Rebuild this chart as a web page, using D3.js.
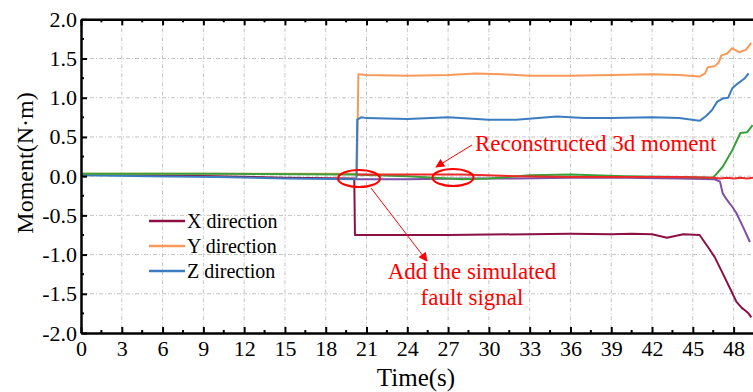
<!DOCTYPE html>
<html>
<head>
<meta charset="utf-8">
<script src="https://cdn.jsdelivr.net/npm/d3@7"></script>
<style>
  html, body { margin: 0; padding: 0; background: #fff; }
  svg { display: block; }
  svg text { font-family: "Liberation Serif", "Times New Roman", serif !important; }
</style>
</head>
<body>
<svg id="chart" width="753" height="392"></svg>
<script>
// -- Data --
const xTicks = [0, 3, 6, 9, 12, 15, 18, 21, 24, 27, 30, 33, 36, 39, 42, 45, 48];
const yTicks = [-2.0, -1.5, -1.0, -0.5, 0.0, 0.5, 1.0, 1.5, 2.0];

const timeX = [0, 5, 10, 15, 20.1, 20.15, 21, 24, 27, 30, 33, 36, 39, 40.5, 42, 43.1, 44.3, 45.5, 46.1, 46.6, 47.2, 47.9, 48.2, 48.6, 48.9, 49.1, 49.3];
const momentX = [0.02, 0.01, 0.0, -0.02, -0.03, -0.75, -0.75, -0.75, -0.75, -0.745, -0.74, -0.735, -0.74, -0.735, -0.74, -0.785, -0.74, -0.75, -0.9, -1.03, -1.24, -1.49, -1.6, -1.68, -1.72, -1.75, -1.8];

const timeY = [0, 10, 20, 20.3, 20.4, 21, 24, 27, 29, 31, 33, 36, 39, 42, 44, 45.5, 45.9, 46.1, 46.6, 46.9, 47.1, 47.5, 47.9, 48.4, 48.9, 49.3];
const momentY = [0.03, 0.03, 0.03, 0.03, 1.3, 1.29, 1.28, 1.29, 1.31, 1.3, 1.28, 1.28, 1.29, 1.3, 1.29, 1.27, 1.31, 1.39, 1.4, 1.45, 1.54, 1.56, 1.63, 1.58, 1.61, 1.7];

const timeZ = [0, 5, 10, 15, 20.25, 20.32, 20.6, 21, 24, 27, 30, 32, 35, 37, 39, 42, 44, 45.5, 46, 46.4, 46.8, 47.2, 47.6, 47.9, 48.3, 48.8, 49.1];
const momentZ = [0.01, 0.0, -0.01, -0.03, -0.04, 0.72, 0.75, 0.74, 0.73, 0.75, 0.72, 0.72, 0.76, 0.74, 0.74, 0.75, 0.74, 0.705, 0.77, 0.84, 0.95, 0.99, 1.0, 1.12, 1.18, 1.245, 1.31];

const timeP = [20.3, 24, 28, 32, 36, 40, 44, 46.6, 47.0, 47.2, 47.5, 47.9, 48.2, 48.7, 49.2];
const momentP = [-0.04, -0.04, -0.03, -0.03, -0.02, -0.02, -0.03, -0.04, -0.07, -0.22, -0.3, -0.39, -0.47, -0.65, -0.84];

const timeG = [0, 10, 20, 24, 26, 28, 30, 33, 36, 40, 44, 46.5, 47.2, 47.9, 48.5, 49.0, 49.4];
const momentG = [0.03, 0.03, 0.02, 0.0, -0.02, -0.04, -0.03, 0.01, 0.02, 0.0, -0.01, -0.02, 0.12, 0.33, 0.55, 0.56, 0.65];

const timeR = [20.3, 24, 28, 32, 36, 40, 44, 46.5, 47, 47.5, 48, 48.5, 49, 49.5];
const momentR = [0.02, 0.02, 0.02, 0.0, -0.01, -0.01, -0.01, -0.02, -0.03, -0.02, -0.03, -0.02, -0.03, -0.02];

const legendNames = ["X direction", "Y direction", "Z direction"];

// -- Layout --
const svg = d3.select("#chart");
const plotLeft = 81, plotRight = 754, plotTop = 19.3, plotBottom = 333;

const x = d3.scaleLinear().domain([0, 49.5]).range([plotLeft, plotRight]);
const y = d3.scaleLinear().domain([-2, 2]).range([plotBottom, plotTop]);

// Clip the curves to the plot
svg.append("clipPath").attr("id", "plot-clip")
  .append("rect").attr("x", plotLeft).attr("y", plotTop)
  .attr("width", plotRight - plotLeft).attr("height", plotBottom - plotTop);

// Grid (dashed, light grey)
const grid = svg.append("g").attr("class", "grid")
  .attr("stroke", "#c4c4c4").attr("stroke-width", 1).attr("stroke-dasharray", "4,2,1,2");
grid.selectAll(".vg").data(xTicks.filter(d => d > 0)).enter().append("line")
  .attr("x1", d => x(d)).attr("x2", d => x(d)).attr("y1", plotTop).attr("y2", plotBottom);
grid.selectAll(".hg").data(yTicks.filter(d => d > -2 && d < 2)).enter().append("line")
  .attr("x1", plotLeft).attr("x2", plotRight).attr("y1", d => y(d)).attr("y2", d => y(d));

// Series
const series = [
  { t: timeX, v: momentX, color: "#8d1044" },
  { t: timeY, v: momentY, color: "#f79a59" },
  { t: timeZ, v: momentZ, color: "#3b7dc0" },
  { t: timeP, v: momentP, color: "#7d4fa8" },
  { t: timeG, v: momentG, color: "#3aa03a" },
  { t: timeR, v: momentR, color: "#ec2a2a" }
];

const line = d3.line().x(d => x(d[0])).y(d => y(d[1]));

svg.append("g").attr("clip-path", "url(#plot-clip)")
  .selectAll("path").data(series).enter().append("path")
  .attr("d", s => line(s.t.map((t, i) => [t, s.v[i]])))
  .attr("fill", "none")
  .attr("stroke", s => s.color)
  .attr("stroke-width", 2)
  .attr("stroke-linejoin", "round");

// Axes
const minorX = d3.range(1.5, 49.5, 3);
const minorY = d3.range(-1.75, 2, 0.5);

const xAxis = svg.append("g").attr("transform", `translate(0,${plotBottom})`)
  .call(d3.axisBottom(x).tickValues(xTicks).tickSize(-6).tickSizeOuter(0).tickPadding(7).tickFormat(d3.format("d")));
const xTop = svg.append("g").attr("transform", `translate(0,${plotTop})`)
  .call(d3.axisTop(x).tickValues(xTicks).tickSize(-6).tickSizeOuter(0).tickFormat(""));
const yAxis = svg.append("g").attr("transform", `translate(${plotLeft},0)`)
  .call(d3.axisLeft(y).tickValues(yTicks).tickSize(-6).tickSizeOuter(0).tickPadding(4).tickFormat(d => d.toFixed(1)));

[xAxis, xTop, yAxis].forEach(g => {
  g.attr("font-family", null).attr("font-size", null);
  g.select(".domain").attr("stroke", "#000").attr("stroke-width", 2.5);
  g.selectAll(".tick line").attr("stroke", "#000").attr("stroke-width", 2);
  g.selectAll("text").attr("fill", "#000").style("font-size", "22px");
});

// Minor ticks
svg.append("g").selectAll("line").data(minorX).enter().append("line")
  .attr("x1", d => x(d)).attr("x2", d => x(d)).attr("y1", plotBottom).attr("y2", plotBottom - 3)
  .attr("stroke", "#000").attr("stroke-width", 2);
svg.append("g").selectAll("line").data(minorX).enter().append("line")
  .attr("x1", d => x(d)).attr("x2", d => x(d)).attr("y1", plotTop).attr("y2", plotTop + 3)
  .attr("stroke", "#000").attr("stroke-width", 2);
svg.append("g").selectAll("line").data(minorY).enter().append("line")
  .attr("x1", plotLeft).attr("x2", plotLeft + 3).attr("y1", d => y(d)).attr("y2", d => y(d))
  .attr("stroke", "#000").attr("stroke-width", 2);

// Axis titles
svg.append("text").attr("x", 416).attr("y", 386)
  .attr("text-anchor", "middle").style("font-size", "25px").text("Time(s)");
svg.append("text").attr("transform", "translate(33,163) rotate(-90)")
  .attr("text-anchor", "middle").style("font-size", "24px").text("Moment(N·m)");

// Legend
const legend = svg.append("g").selectAll("g").data(legendNames).enter().append("g")
  .attr("transform", (d, i) => `translate(149,${221 + i * 25})`);
legend.append("line").attr("x1", 0).attr("x2", 36).attr("y1", 0).attr("y2", 0)
  .attr("stroke", (d, i) => series[i].color).attr("stroke-width", 2.5);
legend.append("text").attr("x", 38).attr("y", 7).style("font-size", "20px").text(d => d);

// Annotations
svg.append("defs").append("marker").attr("id", "arrow")
  .attr("viewBox", "0 0 10 10").attr("refX", 9).attr("refY", 5)
  .attr("markerWidth", 11).attr("markerHeight", 9).attr("markerUnits", "userSpaceOnUse")
  .attr("orient", "auto")
  .append("path").attr("d", "M0,0 L10,5 L0,10 Z").attr("fill", "#f00");

const ann = svg.append("g").attr("fill", "none").attr("stroke", "#f00");
ann.append("ellipse").attr("cx", 359).attr("cy", 178.5).attr("rx", 21).attr("ry", 8.5).attr("stroke-width", 2);
ann.append("ellipse").attr("cx", 453).attr("cy", 177.5).attr("rx", 20.5).attr("ry", 8.5).attr("stroke-width", 2);
ann.append("line").attr("x1", 472).attr("y1", 145).attr("x2", 436).attr("y2", 167)
  .attr("stroke-width", 1).attr("marker-end", "url(#arrow)");
ann.append("line").attr("x1", 371).attr("y1", 188).attr("x2", 427).attr("y2", 261)
  .attr("stroke-width", 1).attr("marker-end", "url(#arrow)");

svg.append("text").attr("x", 475).attr("y", 151).attr("fill", "#f00")
  .style("font-size", "23px").text("Reconstructed 3d moment");
svg.append("text").attr("x", 472).attr("y", 279).attr("fill", "#f00").attr("text-anchor", "middle")
  .style("font-size", "23px").text("Add the simulated");
svg.append("text").attr("x", 472).attr("y", 305).attr("fill", "#f00").attr("text-anchor", "middle")
  .style("font-size", "23px").text("fault signal");
</script>
</body>
</html>
